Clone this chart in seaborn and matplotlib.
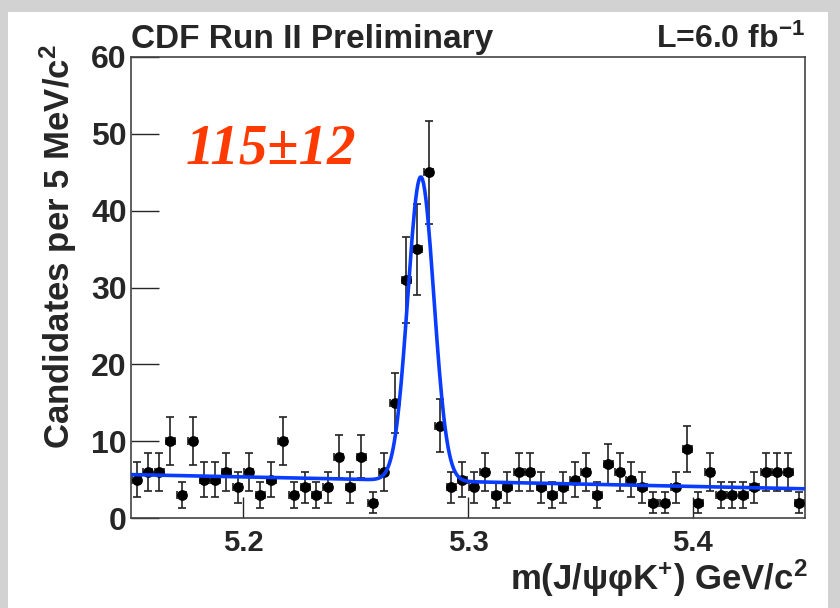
import numpy as np
import pandas as pd
import matplotlib
matplotlib.use("Agg")
import matplotlib.pyplot as plt
from matplotlib.patches import Rectangle
import seaborn as sns

# Histogram: 60 bins of 5 MeV between 5.15 and 5.45 GeV
bin_lo = 5.15
bin_width = 0.005
counts = [5, 6, 6, 10, 3, 10, 5, 5, 6, 4, 6, 3, 5, 10, 3, 4, 3, 4, 8, 4,
          8, 2, 6, 15, 31, 35, 45, 12, 4, 5, 4, 6, 3, 4, 6, 6, 4, 3, 4, 5,
          6, 3, 7, 6, 5, 4, 2, 2, 4, 9, 2, 6, 3, 3, 3, 4, 6, 6, 6, 2]

# Fit result: gaussian signal + linear background
n_signal = 115
mass_peak = 5.279
mass_sigma = 0.0058
bg_left = 5.65   # background at 5.15
bg_right = 3.8   # background at 5.45

x_ticks = [5.2, 5.3, 5.4]
y_ticks = [0, 10, 20, 30, 40, 50, 60]

sns.set_style("ticks")
plt.rcParams["font.family"] = ["Liberation Sans", "DejaVu Sans"]
plt.rcParams["font.weight"] = "bold"
plt.rcParams["mathtext.fontset"] = "custom"
plt.rcParams["mathtext.rm"] = "Liberation Sans:bold"
plt.rcParams["mathtext.bf"] = "Liberation Sans:bold"
plt.rcParams["mathtext.default"] = "rm"

df = pd.DataFrame({"mass": bin_lo + bin_width * (np.arange(len(counts)) + 0.5),
                   "n": counts})
df["err"] = np.sqrt(df["n"])

m = np.linspace(5.15, 5.45, 600)
amp = n_signal * bin_width / (mass_sigma * np.sqrt(2 * np.pi))
bg = bg_left + (bg_right - bg_left) * (m - 5.15) / 0.3
fit = pd.DataFrame({"mass": m,
                    "y": bg + amp * np.exp(-0.5 * ((m - mass_peak) / mass_sigma) ** 2)})

fig = plt.figure(figsize=(8.4, 6.08), dpi=100)
fig.patch.set_facecolor("#d2d2d2")
fig.patches.append(Rectangle((8 / 840, 0), 820 / 840, 596 / 608,
                             transform=fig.transFigure, facecolor="white",
                             edgecolor="none", zorder=-5))
ax = fig.add_axes([131 / 840, 1 - 518 / 608, 674 / 840, 461 / 608])
ax.set_zorder(2)
ax.set_facecolor("white")

ax.errorbar(df["mass"], df["n"], yerr=df["err"], xerr=bin_width / 2 * 0.8,
            fmt="none", ecolor="#222222", elinewidth=1.2, capsize=3, capthick=1.2)
sns.scatterplot(data=df, x="mass", y="n", ax=ax, color="black", s=60,
                edgecolor="black", linewidth=0, zorder=3)
sns.lineplot(data=fit, x="mass", y="y", ax=ax, color="#0a3cff", linewidth=2.6,
             zorder=4)

ax.set_xlim(5.15, 5.45)
ax.set_ylim(0, 60)
ax.set_xticks(x_ticks)
ax.set_yticks(y_ticks)
ax.set_xticklabels([f"{t:.1f}" for t in x_ticks], fontsize=21, fontweight="bold")
ax.set_yticklabels([str(t) for t in y_ticks], fontsize=23, fontweight="bold")
ax.tick_params(axis="x", direction="in", length=15, width=1, pad=8)
ax.tick_params(axis="y", direction="in", length=20, width=1, pad=3)
ax.set_xlabel("")
ax.set_ylabel("")
for s in ax.spines.values():
    s.set_color("#444444")
    s.set_linewidth(1.2)

fig.text(131 / 840, 1 - 48 / 608, "CDF Run II Preliminary", fontsize=24,
         fontweight="bold", ha="left", va="baseline")
fig.text(805 / 840, 1 - 48 / 608, r"L=6.0 fb$^{-1}$", fontsize=23,
         fontweight="bold", ha="right", va="baseline")
fig.text(58 / 840, 1 - 44 / 608, r"Candidates per 5 MeV/c$^{2}$",
         fontsize=25, fontweight="bold", rotation=90, ha="center", va="top")
fig.text(808 / 840, 1 - 590 / 608, r"m(J/ψφK$^{+}$) GeV/c$^{2}$",
         fontsize=25, fontweight="bold", ha="right", va="baseline")
fig.text(186 / 840, 1 - 163 / 608, "115±12",
         fontsize=41, fontweight="bold", fontstyle="italic", color="#ff3a00",
         family=["Liberation Serif", "DejaVu Serif"], ha="left", va="baseline")

fig.savefig("out.png", dpi=100, facecolor=fig.get_facecolor())
